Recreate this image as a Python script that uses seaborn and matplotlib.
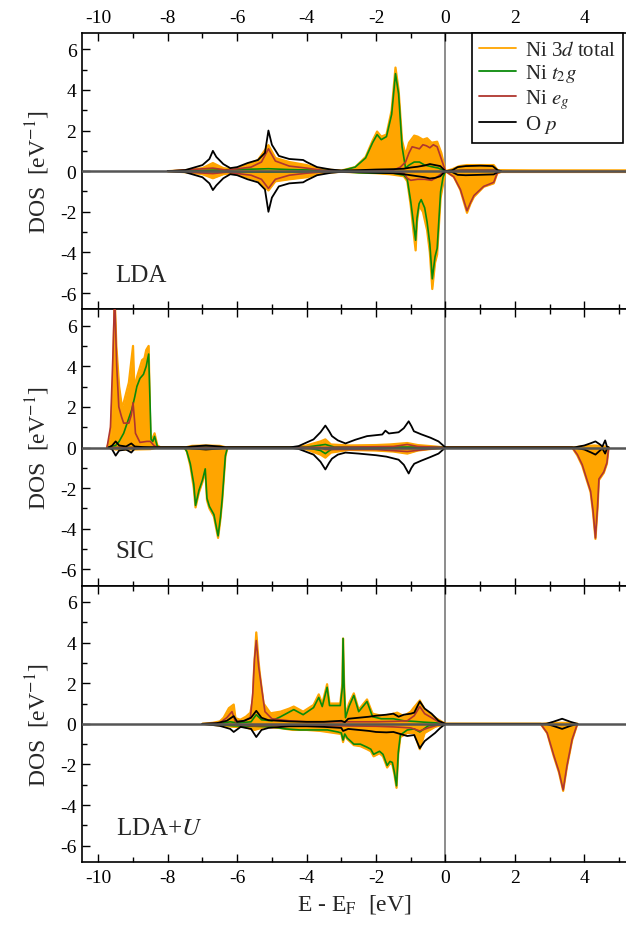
import numpy as np
import pandas as pd
import matplotlib
matplotlib.use("Agg")
import matplotlib.pyplot as plt
from matplotlib.lines import Line2D
from matplotlib.ticker import MultipleLocator
import seaborn as sns

# ---------------- data (E - E_F [eV], DOS [1/eV]); spin-down stored negative ----------------
PANELS = ["LDA", "SIC", "LDA+$U$"]
LEGEND_LABELS = ["Ni 3$d$ total", "Ni $t_2g$", "Ni $e_g$", "O $p$"]

# ---- LDA ----
LDA_NI3D_UP = [(-8.0, 0), (-7.5, 0.05), (-7.0, 0.15), (-6.7, 0.4), (-6.4, 0.15), (-6.1, 0.08), (-5.8, 0.25),
               (-5.4, 0.55), (-5.1, 1.28), (-4.9, 0.65), (-4.5, 0.45), (-4.0, 0.3), (-3.6, 0.1), (-3.0, 0.03),
               (-2.6, 0.2), (-2.3, 0.7), (-2.1, 1.5), (-1.97, 1.95), (-1.85, 1.7), (-1.7, 1.8), (-1.55, 3.0),
               (-1.44, 5.1), (-1.35, 4.0), (-1.25, 1.5), (-1.15, 0.8), (-1.05, 1.4), (-0.9, 1.75), (-0.8, 1.7),
               (-0.65, 1.55), (-0.53, 1.62), (-0.4, 1.4), (-0.24, 1.45), (-0.12, 0.9), (0.0, 0), (0.2, 0.1),
               (0.4, 0.25), (0.62, 0.3), (1.0, 0.3), (1.39, 0.3), (1.5, 0.05), (2.5, 0.04), (5.2, 0.04)]
LDA_NI3D_DN = [(-8.0, 0), (-7.5, -0.05), (-7.0, -0.15), (-6.7, -0.35), (-6.4, -0.15), (-6.1, -0.08), (-5.8, -0.25),
               (-5.4, -0.45), (-5.1, -0.95), (-4.9, -0.5), (-4.5, -0.4), (-4.0, -0.3), (-3.6, -0.1), (-3.0, -0.03),
               (-2.0, -0.1), (-1.6, -0.15), (-1.2, -0.25), (-1.1, -0.5), (-1.0, -1.7), (-0.92, -3.0), (-0.86, -3.9),
               (-0.82, -2.5), (-0.76, -1.7), (-0.65, -2.0), (-0.53, -2.9), (-0.45, -4.0), (-0.38, -5.8),
               (-0.3, -4.5), (-0.24, -4.1), (-0.14, -1.3), (0.0, 0), (0.24, -0.28), (0.43, -0.93), (0.62, -2.05),
               (0.72, -1.6), (0.82, -1.26), (1.1, -0.77), (1.39, -0.6), (1.49, -0.11), (1.6, -0.04), (5.2, -0.04)]
LDA_T2G_UP = [(-8.0, 0), (-6.7, 0.05), (-5.1, 0.12), (-4.5, 0.08), (-3.0, 0.02), (-2.6, 0.2), (-2.3, 0.65),
              (-2.1, 1.4), (-1.97, 1.8), (-1.85, 1.55), (-1.7, 1.7), (-1.55, 2.8), (-1.44, 4.8), (-1.35, 3.8),
              (-1.25, 1.2), (-1.15, 0.15), (-1.05, 0.3), (-0.9, 0.45), (-0.75, 0.45), (-0.6, 0.3), (-0.4, 0.22),
              (-0.2, 0.15), (0.0, 0), (0.5, 0.05), (1.4, 0.05), (1.5, 0.0)]
LDA_T2G_DN = [(-8.0, 0), (-5.1, -0.05), (-3.0, -0.02), (-2.5, -0.08), (-1.8, -0.1), (-1.5, -0.1), (-1.2, -0.2),
              (-1.1, -0.4), (-1.0, -1.5), (-0.92, -2.6), (-0.86, -3.4), (-0.82, -2.3), (-0.76, -1.6), (-0.7, -1.4),
              (-0.6, -1.8), (-0.53, -2.5), (-0.45, -3.6), (-0.38, -5.3), (-0.3, -4.2), (-0.24, -3.8),
              (-0.14, -1.0), (-0.07, -0.3), (0.0, 0)]
LDA_EG_UP = [(-8.0, 0), (-6.7, 0.15), (-6.3, 0.05), (-5.6, 0.2), (-5.3, 0.45), (-5.1, 1.1), (-4.9, 0.5),
             (-4.5, 0.25), (-4.0, 0.15), (-3.5, 0.03), (-2.5, 0.02), (-1.5, 0.05), (-1.3, 0.2), (-1.15, 0.45),
             (-1.05, 0.9), (-0.96, 1.2), (-0.85, 1.15), (-0.75, 1.1), (-0.65, 1.3), (-0.55, 1.25), (-0.45, 1.15),
             (-0.35, 1.3), (-0.24, 1.2), (-0.12, 0.6), (0.0, 0), (0.5, 0.05), (1.4, 0.05), (1.5, 0)]
LDA_EG_DN = [(-8.0, 0), (-6.7, -0.12), (-6.3, -0.05), (-5.6, -0.2), (-5.3, -0.4), (-5.1, -0.85), (-4.9, -0.4),
             (-4.5, -0.2), (-4.0, -0.1), (-3.5, -0.03), (-1.5, -0.02), (-1.2, -0.1), (-1.1, -0.35), (-1.0, -0.45),
             (-0.8, -0.4), (-0.6, -0.4), (-0.4, -0.45), (-0.25, -0.3), (-0.1, -0.1), (0.0, 0), (0.24, -0.28),
             (0.43, -0.9), (0.62, -1.95), (0.72, -1.55), (0.82, -1.2), (1.1, -0.75), (1.39, -0.55), (1.49, -0.1),
             (1.6, -0.02), (5.2, -0.02)]
LDA_OP_UP = [(-8.0, 0), (-7.5, 0.05), (-7.0, 0.3), (-6.8, 0.6), (-6.7, 1.0), (-6.6, 0.7), (-6.4, 0.35),
             (-6.2, 0.15), (-6.0, 0.2), (-5.7, 0.4), (-5.4, 0.55), (-5.2, 0.9), (-5.1, 2.0), (-5.0, 1.3),
             (-4.8, 0.75), (-4.5, 0.6), (-4.1, 0.55), (-4.0, 0.45), (-3.7, 0.2), (-3.3, 0.08), (-3.0, 0.03),
             (-2.5, 0.05), (-2.0, 0.08), (-1.5, 0.1), (-1.2, 0.12), (-1.0, 0.18), (-0.8, 0.22), (-0.6, 0.28),
             (-0.45, 0.35), (-0.3, 0.3), (-0.15, 0.25), (0.0, 0), (0.2, 0.05), (0.35, 0.2), (0.58, 0.25),
             (1.0, 0.27), (1.36, 0.25), (1.5, 0.05), (1.6, 0.0)]
LDA_OP_DN = [(-8.0, 0), (-7.5, -0.05), (-7.0, -0.3), (-6.8, -0.6), (-6.7, -0.93), (-6.6, -0.7), (-6.4, -0.35),
             (-6.2, -0.15), (-6.0, -0.2), (-5.7, -0.4), (-5.4, -0.55), (-5.2, -0.9), (-5.1, -2.0), (-5.0, -1.3),
             (-4.8, -0.75), (-4.5, -0.6), (-4.1, -0.55), (-4.0, -0.45), (-3.7, -0.2), (-3.3, -0.08), (-3.0, -0.03),
             (-2.5, -0.05), (-2.0, -0.08), (-1.5, -0.1), (-1.2, -0.15), (-1.0, -0.2), (-0.8, -0.25), (-0.6, -0.3),
             (-0.45, -0.36), (-0.3, -0.33), (-0.15, -0.25), (0.0, 0), (0.2, -0.05), (0.35, -0.18), (0.58, -0.2),
             (1.0, -0.18), (1.39, -0.16), (1.5, -0.05), (1.6, 0)]

# ---- SIC ----
SIC_NI3D_UP = [(-9.75, 0), (-9.65, 0.5), (-9.58, 3.0), (-9.53, 7.5), (-9.48, 5.0), (-9.4, 3.0), (-9.32, 2.0),
               (-9.27, 2.2), (-9.12, 3.2), (-9.0, 5.0), (-8.96, 2.9), (-8.88, 3.5), (-8.74, 4.3), (-8.67, 4.4),
               (-8.62, 4.8), (-8.55, 5.0), (-8.5, 0.5), (-8.45, 0.4), (-8.38, 0.7), (-8.3, 0.1), (-8.2, 0),
               (-7.5, 0), (-7.3, 0.08), (-6.9, 0.1), (-6.5, 0.08), (-6.3, 0), (-4.3, 0), (-4.0, 0.1), (-3.6, 0.3),
               (-3.46, 0.4), (-3.3, 0.15), (-2.8, 0.1), (-2.0, 0.12), (-1.6, 0.15), (-1.1, 0.22), (-0.8, 0.12),
               (-0.3, 0.05), (0.0, 0), (3.7, 0), (3.9, 0.05), (4.3, 0.1), (4.6, 0.05), (4.7, 0)]
SIC_NI3D_DN = [(-9.7, 0), (-9.5, -0.1), (-9.0, -0.1), (-8.5, -0.08), (-8.3, 0), (-7.52, 0), (-7.45, -0.2),
               (-7.35, -0.9), (-7.25, -2.0), (-7.2, -2.95), (-7.1, -2.2), (-7.0, -1.7), (-6.92, -1.1),
               (-6.87, -2.6), (-6.8, -3.0), (-6.67, -3.4), (-6.55, -4.45), (-6.48, -3.5), (-6.43, -2.6),
               (-6.34, -0.45), (-6.28, 0), (-4.3, 0), (-4.0, -0.1), (-3.6, -0.35), (-3.46, -0.5), (-3.3, -0.25),
               (-2.8, -0.12), (-2.0, -0.15), (-1.5, -0.2), (-1.1, -0.3), (-0.8, -0.15), (-0.3, -0.05), (0.0, 0),
               (3.65, 0), (3.8, -0.4), (3.94, -0.9), (4.05, -1.5), (4.18, -2.2), (4.25, -3.2), (4.32, -4.5),
               (4.38, -3.0), (4.42, -1.6), (4.56, -1.25), (4.65, -0.8), (4.7, 0)]
SIC_T2G_UP = [(-9.75, 0), (-9.5, 0.1), (-9.4, 0.3), (-9.27, 0.7), (-9.15, 1.3), (-9.03, 1.9), (-8.95, 2.5),
              (-8.89, 3.0), (-8.8, 3.4), (-8.7, 3.6), (-8.62, 4.0), (-8.55, 4.6), (-8.48, 0.4), (-8.43, 0.3),
              (-8.38, 0.55), (-8.3, 0.05), (-8.2, 0), (-7.4, 0.02), (-6.9, 0.05), (-6.3, 0), (-4.0, 0.02),
              (-3.46, 0.15), (-3.2, 0.02), (-1.1, 0.02), (0.0, 0)]
SIC_T2G_DN = [(-9.7, 0), (-8.3, 0), (-7.52, 0), (-7.45, -0.2), (-7.35, -0.8), (-7.25, -1.8), (-7.2, -2.85),
              (-7.1, -2.1), (-7.0, -1.6), (-6.92, -1.05), (-6.87, -2.5), (-6.8, -2.9), (-6.67, -3.3),
              (-6.55, -4.35), (-6.48, -3.4), (-6.43, -2.5), (-6.34, -0.4), (-6.28, 0), (-4.0, 0), (-3.6, -0.15),
              (-3.46, -0.3), (-3.3, -0.1), (-3.0, -0.02), (0.0, 0)]
SIC_EG_UP = [(-9.75, 0), (-9.65, 1.0), (-9.58, 4.5), (-9.53, 7.5), (-9.47, 4.0), (-9.41, 2.0), (-9.33, 1.5),
             (-9.27, 1.2), (-9.12, 1.2), (-9.05, 1.6), (-9.0, 2.2), (-8.95, 1.2), (-8.93, 0.7), (-8.8, 0.25),
             (-8.6, 0.3), (-8.5, 0.3), (-8.4, 0.1), (-8.3, 0), (-3.6, 0), (-1.5, 0.05), (-1.1, 0.15),
             (-0.8, 0.05), (0.0, 0)]
SIC_EG_DN = [(-9.7, 0), (-8.3, 0), (-3.6, 0), (-3.46, -0.1), (-2.0, -0.1), (-1.1, -0.2), (-0.6, -0.1), (0.0, 0),
             (3.65, 0), (3.8, -0.35), (3.94, -0.85), (4.05, -1.45), (4.18, -2.15), (4.25, -3.1), (4.32, -4.45),
             (4.38, -2.9), (4.42, -1.55), (4.56, -1.2), (4.65, -0.75), (4.7, 0)]
SIC_OP_UP = [(-9.7, 0), (-9.6, 0.1), (-9.5, 0.3), (-9.4, 0.1), (-9.2, 0.05), (-9.05, 0.2), (-8.95, 0.05),
             (-8.7, 0.02), (-8.4, 0), (-7.5, 0), (-7.3, 0.05), (-6.9, 0.1), (-6.5, 0.05), (-6.3, 0), (-4.5, 0),
             (-4.23, 0.07), (-3.8, 0.4), (-3.6, 0.75), (-3.46, 1.08), (-3.35, 0.8), (-3.27, 0.56), (-3.1, 0.35),
             (-2.88, 0.2), (-2.6, 0.38), (-2.26, 0.56), (-1.82, 0.64), (-1.73, 0.83), (-1.63, 0.69),
             (-1.35, 0.75), (-1.2, 0.95), (-1.06, 1.29), (-0.98, 1.05), (-0.91, 0.8), (-0.7, 0.65),
             (-0.43, 0.48), (-0.2, 0.3), (0.0, 0), (3.7, 0), (4.0, 0.1), (4.2, 0.22), (4.32, 0.3), (4.45, 0.15),
             (4.52, 0.05), (4.6, 0.35), (4.65, 0.05), (4.7, 0)]
SIC_OP_DN = [(-9.7, 0), (-9.6, -0.1), (-9.5, -0.4), (-9.4, -0.15), (-9.2, -0.1), (-9.05, -0.25), (-8.95, -0.05),
             (-8.7, -0.02), (-8.4, 0), (-7.5, 0), (-7.3, -0.05), (-6.9, -0.1), (-6.5, -0.05), (-6.3, 0),
             (-4.5, 0), (-4.23, -0.07), (-3.8, -0.35), (-3.6, -0.7), (-3.46, -1.08), (-3.35, -0.75),
             (-3.27, -0.55), (-3.1, -0.35), (-2.88, -0.25), (-2.5, -0.3), (-2.0, -0.38), (-1.7, -0.45),
             (-1.35, -0.6), (-1.2, -0.85), (-1.06, -1.28), (-0.98, -1.0), (-0.9, -0.8), (-0.7, -0.65),
             (-0.45, -0.48), (-0.2, -0.3), (0.0, 0), (3.7, 0), (4.0, -0.1), (4.2, -0.25), (4.32, -0.35),
             (4.45, -0.15), (4.52, -0.05), (4.6, -0.3), (4.65, -0.05), (4.7, 0)]

# ---- LDA+U ----
LDAU_NI3D_UP = [(-7.0, 0), (-6.7, 0.05), (-6.5, 0.12), (-6.39, 0.3), (-6.24, 0.77), (-6.1, 0.95), (-6.05, 0.28),
                (-5.91, 0.2), (-5.75, 0.35), (-5.62, 0.55), (-5.55, 1.2), (-5.52, 2.5), (-5.45, 4.5), (-5.38, 3.0),
                (-5.35, 2.5), (-5.24, 1.0), (-5.04, 0.52), (-4.75, 0.6), (-4.5, 0.75), (-4.37, 0.85), (-4.1, 0.6),
                (-3.8, 0.93), (-3.65, 1.45), (-3.55, 0.98), (-3.41, 1.95), (-3.34, 1.0), (-3.03, 1.0),
                (-2.97, 2.0), (-2.95, 4.2), (-2.92, 2.0), (-2.88, 0.4), (-2.78, 1.0), (-2.64, 1.5), (-2.5, 0.7),
                (-2.26, 1.2), (-2.1, 0.5), (-1.85, 0.4), (-1.6, 0.45), (-1.39, 0.55), (-1.2, 0.38), (-1.0, 0.6),
                (-0.91, 0.8), (-0.74, 1.15), (-0.6, 0.7), (-0.45, 0.5), (-0.25, 0.25), (-0.08, 0.08), (0.0, 0),
                (2.8, 0), (3.1, 0.05), (3.5, 0.05), (3.8, 0)]
LDAU_NI3D_DN = [(-7.0, 0), (-6.5, -0.08), (-6.1, -0.15), (-5.8, -0.15), (-5.5, -0.3), (-5.2, -0.15), (-4.8, -0.2),
                (-4.4, -0.3), (-4.0, -0.3), (-3.6, -0.35), (-3.2, -0.45), (-3.0, -0.5), (-2.95, -0.9),
                (-2.9, -0.55), (-2.83, -0.75), (-2.7, -0.95), (-2.64, -1.05), (-2.45, -1.1), (-2.26, -1.25),
                (-2.15, -1.35), (-2.07, -1.6), (-1.9, -1.45), (-1.8, -1.6), (-1.68, -2.15), (-1.6, -1.95),
                (-1.53, -2.0), (-1.47, -2.5), (-1.41, -3.15), (-1.36, -1.5), (-1.3, -0.65), (-1.1, -0.45),
                (-0.9, -0.45), (-0.74, -1.25), (-0.6, -0.45), (-0.45, -0.3), (-0.3, -0.15), (0.0, 0),
                (2.74, 0), (2.93, -0.46), (3.12, -1.6), (3.27, -2.4), (3.39, -3.3), (3.5, -2.1), (3.65, -0.8),
                (3.8, 0)]
LDAU_T2G_UP = [(-7.0, 0), (-6.5, 0.02), (-6.2, 0.1), (-6.0, 0.05), (-5.6, 0.1), (-5.45, 0.45), (-5.3, 0.2),
               (-5.0, 0.15), (-4.75, 0.35), (-4.37, 0.7), (-4.1, 0.45), (-3.8, 0.8), (-3.65, 1.3), (-3.55, 0.85),
               (-3.41, 1.8), (-3.34, 0.9), (-3.03, 0.9), (-2.97, 1.8), (-2.95, 4.2), (-2.92, 1.8), (-2.88, 0.3),
               (-2.78, 0.85), (-2.64, 1.4), (-2.5, 0.6), (-2.26, 1.1), (-2.1, 0.35), (-1.85, 0.25), (-1.5, 0.25),
               (-1.2, 0.15), (-0.9, 0.12), (-0.6, 0.08), (-0.3, 0.05), (0.0, 0)]
LDAU_T2G_DN = [(-7.0, 0), (-6.5, -0.05), (-6.1, -0.1), (-5.5, -0.12), (-5.0, -0.15), (-4.6, -0.25), (-4.2, -0.3),
               (-3.8, -0.3), (-3.4, -0.3), (-3.1, -0.4), (-3.0, -0.45), (-2.95, -0.8), (-2.9, -0.5),
               (-2.83, -0.7), (-2.7, -0.9), (-2.64, -1.0), (-2.45, -1.0), (-2.26, -1.15), (-2.15, -1.25),
               (-2.07, -1.5), (-1.9, -1.35), (-1.8, -1.5), (-1.68, -2.05), (-1.6, -1.85), (-1.53, -1.9),
               (-1.47, -2.4), (-1.41, -3.05), (-1.36, -1.4), (-1.3, -0.55), (-1.1, -0.3), (-0.9, -0.25),
               (-0.74, -0.4), (-0.5, -0.1), (0.0, 0)]
LDAU_EG_UP = [(-7.0, 0), (-6.5, 0.05), (-6.3, 0.3), (-6.15, 0.6), (-6.05, 0.1), (-5.8, 0.15), (-5.62, 0.3),
              (-5.55, 1.5), (-5.5, 3.2), (-5.45, 4.1), (-5.38, 2.8), (-5.3, 1.8), (-5.2, 0.6), (-5.0, 0.25),
              (-4.5, 0.15), (-4.0, 0.1), (-3.0, 0.1), (-2.0, 0.1), (-1.5, 0.12), (-1.1, 0.15), (-0.9, 0.4),
              (-0.74, 0.85), (-0.6, 0.5), (-0.4, 0.3), (-0.2, 0.1), (0.0, 0)]
LDAU_EG_DN = [(-7.0, 0), (-6.0, -0.05), (-5.5, -0.1), (-5.0, -0.08), (-4.0, -0.08), (-3.0, -0.1), (-2.0, -0.12),
              (-1.5, -0.15), (-1.0, -0.2), (-0.74, -0.35), (-0.5, -0.2), (-0.2, -0.05), (0.0, 0), (2.74, 0),
              (2.93, -0.45), (3.12, -1.55), (3.27, -2.35), (3.39, -3.25), (3.5, -2.05), (3.65, -0.75), (3.8, 0)]
LDAU_OP_UP = [(-7.0, 0), (-6.6, 0.03), (-6.3, 0.15), (-6.1, 0.38), (-6.0, 0.1), (-5.8, 0.15), (-5.6, 0.3),
              (-5.45, 0.64), (-5.3, 0.3), (-5.1, 0.18), (-4.5, 0.12), (-4.0, 0.1), (-3.5, 0.1), (-3.0, 0.15),
              (-2.9, 0.08), (-2.8, 0.25), (-2.5, 0.3), (-2.2, 0.35), (-2.0, 0.4), (-1.7, 0.45), (-1.5, 0.5),
              (-1.35, 0.35), (-1.2, 0.45), (-1.0, 0.5), (-0.9, 0.55), (-0.74, 1.1), (-0.6, 0.75), (-0.4, 0.5),
              (-0.2, 0.15), (0.0, 0), (2.9, 0), (3.1, 0.1), (3.36, 0.25), (3.6, 0.1), (3.8, 0)]
LDAU_OP_DN = [(-7.0, 0), (-6.5, -0.1), (-6.2, -0.25), (-6.1, -0.4), (-5.9, -0.15), (-5.6, -0.25), (-5.45, -0.65),
              (-5.3, -0.3), (-5.1, -0.2), (-4.5, -0.12), (-4.0, -0.12), (-3.5, -0.15), (-3.0, -0.2),
              (-2.95, -0.35), (-2.8, -0.25), (-2.5, -0.3), (-2.2, -0.35), (-2.0, -0.4), (-1.7, -0.42),
              (-1.5, -0.4), (-1.3, -0.5), (-1.1, -0.6), (-0.9, -0.55), (-0.74, -1.2), (-0.6, -0.85),
              (-0.45, -0.65), (-0.3, -0.45), (-0.15, -0.2), (0.0, 0), (2.9, 0), (3.1, -0.1), (3.36, -0.25),
              (3.6, -0.1), (3.8, 0)]

X_TICKS = [-10, -8, -6, -4, -2, 0, 2, 4]
Y_TICKS = [-6, -4, -2, 0, 2, 4, 6]

PANEL_DATA = [
    (LDA_NI3D_UP, LDA_NI3D_DN, LDA_T2G_UP, LDA_T2G_DN, LDA_EG_UP, LDA_EG_DN, LDA_OP_UP, LDA_OP_DN),
    (SIC_NI3D_UP, SIC_NI3D_DN, SIC_T2G_UP, SIC_T2G_DN, SIC_EG_UP, SIC_EG_DN, SIC_OP_UP, SIC_OP_DN),
    (LDAU_NI3D_UP, LDAU_NI3D_DN, LDAU_T2G_UP, LDAU_T2G_DN, LDAU_EG_UP, LDAU_EG_DN, LDAU_OP_UP, LDAU_OP_DN),
]

# ---------------- style ----------------
sns.set_style("ticks")
plt.rcParams["font.family"] = ["Liberation Serif", "DejaVu Serif"]
plt.rcParams["mathtext.fontset"] = "stix"

ORANGE = "#FFA500"
GREEN = "#0A8A0A"
RED = "#B0362E"
BLACK = "#000000"

fig = plt.figure(figsize=(6.26, 9.29), dpi=100)
W, H = 626.0, 929.0
left_px, right_px = 82.0, 626.0
top_px, bot_px = 34.0, 863.0
ph = (bot_px - top_px) / 3.0

axes = []
for i in range(3):
    y_top = top_px + i * ph
    ax = fig.add_axes([left_px / W, 1 - (y_top + ph) / H, (right_px - left_px) / W, ph / H])
    axes.append(ax)


def curve_df(pts):
    return pd.DataFrame(pts, columns=["E", "DOS"])


for i, (ax, data) in enumerate(zip(axes, PANEL_DATA)):
    d_up, d_dn, t_up, t_dn, e_up, e_dn, o_up, o_dn = data
    # orange filled Ni 3d total
    for pts in (d_up, d_dn):
        df = curve_df(pts)
        ax.fill_between(df["E"], 0, df["DOS"], color=ORANGE, lw=0, zorder=1)
        sns.lineplot(data=df, x="E", y="DOS", ax=ax, color=ORANGE, lw=1.6, sort=False,
                     estimator=None, legend=False, zorder=2)
    for pts in (t_up, t_dn):
        sns.lineplot(data=curve_df(pts), x="E", y="DOS", ax=ax, color=GREEN, lw=1.2, sort=False,
                     estimator=None, legend=False, zorder=3)
    for pts in (e_up, e_dn):
        sns.lineplot(data=curve_df(pts), x="E", y="DOS", ax=ax, color=RED, lw=1.2, sort=False,
                     estimator=None, legend=False, zorder=4)
    for pts in (o_up, o_dn):
        sns.lineplot(data=curve_df(pts), x="E", y="DOS", ax=ax, color=BLACK, lw=1.3, sort=False,
                     estimator=None, legend=False, zorder=5)

    ax.axhline(0, color="#555555", lw=1.8, zorder=6)
    ax.axvline(0, color="#8c8c8c", lw=1.4, zorder=0.5)

    ax.set_xlim(-10.47, 5.2)
    ax.set_ylim(-6.8, 6.8)
    ax.set_xticks(X_TICKS)
    ax.set_yticks(Y_TICKS)
    ax.xaxis.set_minor_locator(MultipleLocator(1))
    ax.yaxis.set_minor_locator(MultipleLocator(1))
    ax.tick_params(which="both", direction="in", top=True, bottom=True, left=True, right=False,
                   labelsize=14, width=1.0, colors="black")
    ax.tick_params(which="major", length=6)
    ax.tick_params(which="minor", length=3.5)
    ax.set_yticklabels([f"{v}" for v in Y_TICKS])
    ax.set_xticklabels([f"{v}" for v in X_TICKS])
    ax.tick_params(axis="x", labeltop=(i == 0), labelbottom=(i == 2), pad=5)
    ax.tick_params(axis="y", pad=4)
    for s in ("top", "bottom", "left"):
        ax.spines[s].set_visible(True)
        ax.spines[s].set_linewidth(1.2)
        ax.spines[s].set_color("black")
    ax.spines["right"].set_visible(False)
    ax.set_xlabel("")
    ax.set_ylabel("DOS  [eV$^{-1}$]", fontsize=17, labelpad=6)
    ax.text(-9.5, -5.4, PANELS[i], fontsize=18, ha="left", va="baseline", zorder=7)

axes[2].set_xlabel("E - E$_\\mathrm{F}$  [eV]", fontsize=17, labelpad=4)

handles = [Line2D([], [], color=c, lw=1.3) for c in (ORANGE, GREEN, RED, BLACK)]
leg = axes[0].legend(handles, LEGEND_LABELS, loc="upper left", bbox_to_anchor=(0.717, 1.0),
                     borderaxespad=0, frameon=True, fancybox=False, framealpha=1, edgecolor="black",
                     fontsize=15, handlelength=1.75, handletextpad=0.45, labelspacing=0.12,
                     borderpad=0.35)
leg.get_frame().set_linewidth(1.2)
leg.set_zorder(10)

fig.savefig("out.png", dpi=100)
